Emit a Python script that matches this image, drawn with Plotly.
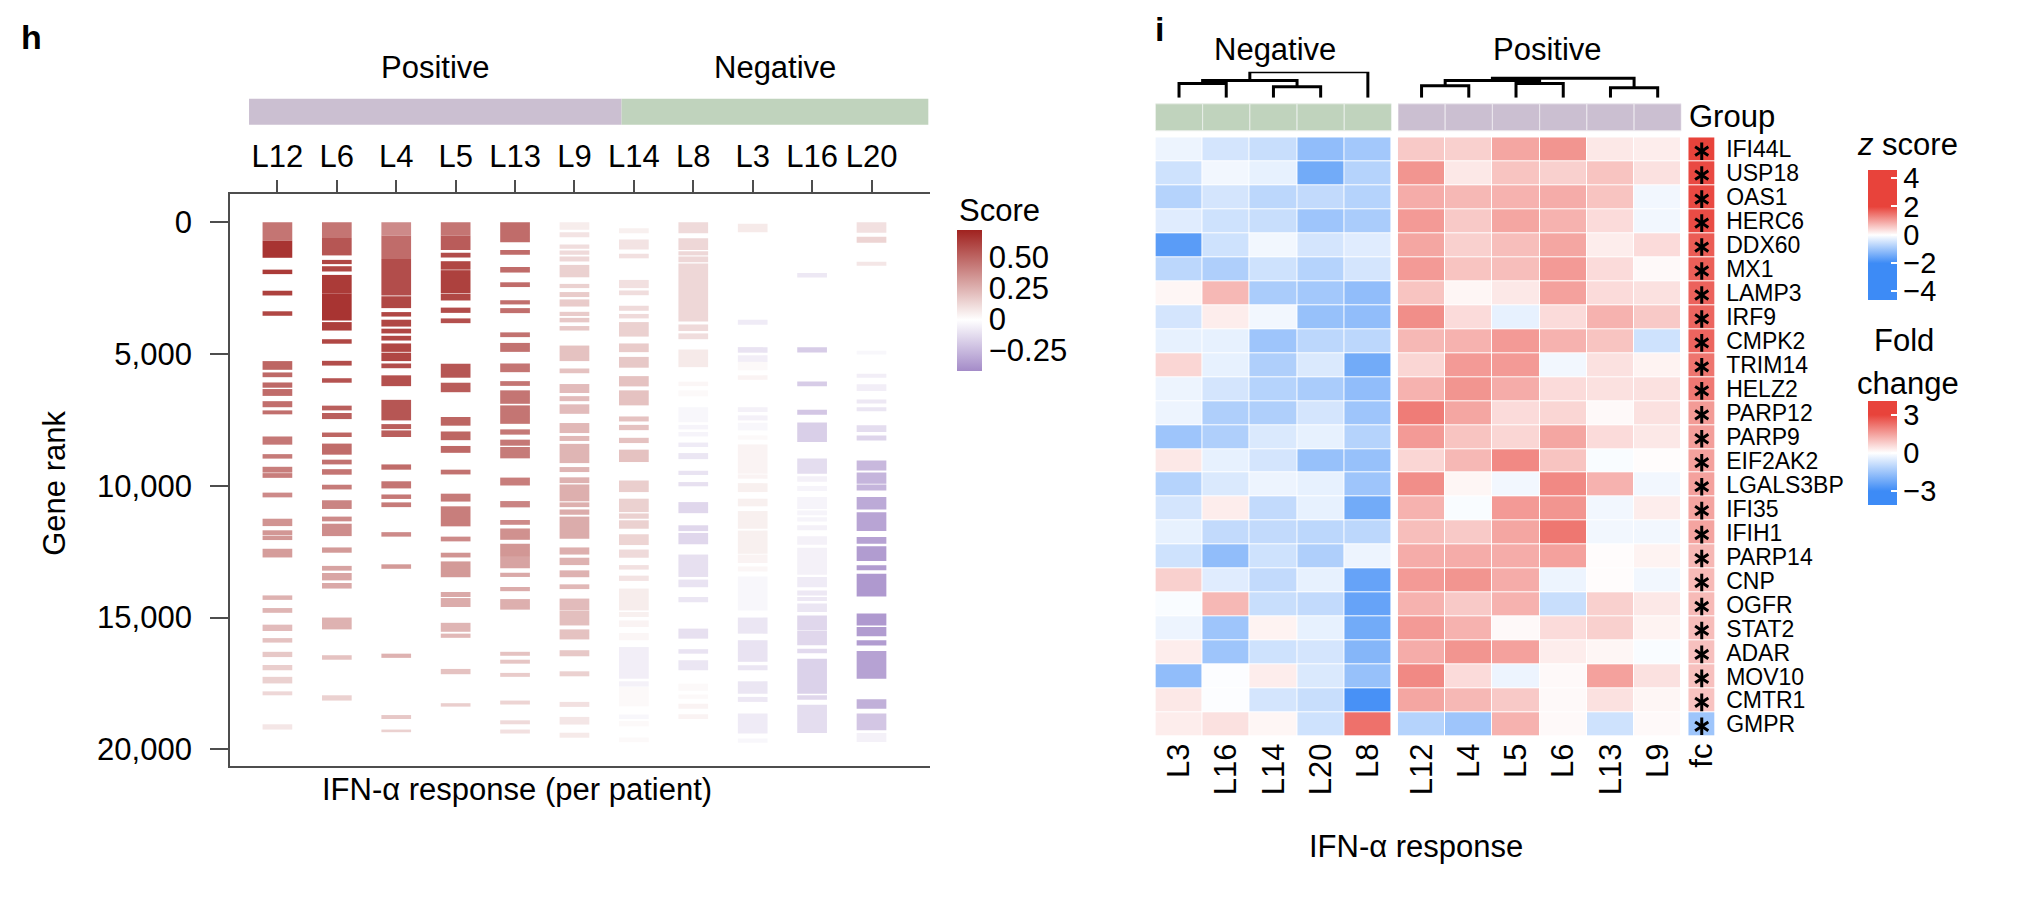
import plotly.graph_objects as go

# page body keeps an 8 px margin, so the figure is drawn 8 px in from the corner
OFF = 8
W, H = 2020 - 2 * OFF, 908 - 2 * OFF
FONT = "Liberation Sans"
AX = "#4d4d4d"
BIG = 31

# ---------------------------------------------------------------------------
# Panel h: barcode of gene ranks per patient (start rank, end rank, score)
# ---------------------------------------------------------------------------
PATIENTS = ["L12", "L6", "L4", "L5", "L13", "L9", "L14", "L8", "L3", "L16", "L20"]

BARS_L12 = [(0, 700, 0.45), (700, 1350, 0.66), (1800, 1970, 0.64), (2600, 2780, 0.62),
            (3380, 3550, 0.6), (5270, 5600, 0.5), (5700, 5880, 0.49), (6080, 6280, 0.49),
            (6330, 6590, 0.48), (6790, 7020, 0.47), (7140, 7290, 0.47), (8130, 8440, 0.44),
            (8800, 8970, 0.43), (9280, 9500, 0.42), (9520, 9700, 0.42), (10260, 10440, 0.38),
            (11250, 11530, 0.35), (11690, 11880, 0.34), (11900, 12060, 0.34), (12390, 12720, 0.32),
            (14160, 14330, 0.25), (14640, 14820, 0.24), (15270, 15510, 0.22), (15780, 15950, 0.2),
            (16300, 16500, 0.18), (16800, 17000, 0.16), (17250, 17500, 0.15), (17800, 17950, 0.13),
            (19050, 19250, 0.08)]
BARS_L6 = [(0, 600, 0.45), (600, 1260, 0.55), (1430, 1590, 0.6), (1670, 1870, 0.6),
           (2000, 2700, 0.64), (2700, 3730, 0.66), (3790, 4110, 0.63), (4440, 4610, 0.6),
           (5260, 5440, 0.58), (5920, 6090, 0.56), (6960, 7140, 0.52), (7240, 7470, 0.52),
           (7980, 8150, 0.5), (8400, 8820, 0.48), (9010, 9190, 0.46), (9370, 9580, 0.45),
           (9960, 10140, 0.43), (10550, 10880, 0.4), (11170, 11350, 0.38), (11440, 11910, 0.37),
           (12340, 12540, 0.33), (13040, 13220, 0.3), (13310, 13590, 0.29), (13690, 13900, 0.28),
           (15000, 15450, 0.25), (16430, 16600, 0.2), (17950, 18150, 0.15)]
BARS_L4 = [(0, 500, 0.38), (500, 1400, 0.48), (1400, 2780, 0.58), (2810, 3260, 0.6),
           (3410, 3580, 0.6), (3700, 3960, 0.6), (4040, 4220, 0.6), (4310, 4490, 0.6),
           (4600, 4920, 0.6), (4950, 5270, 0.6), (5360, 5540, 0.58), (5810, 6220, 0.57),
           (6740, 7520, 0.55), (7660, 7850, 0.52), (7900, 8150, 0.52), (9190, 9390, 0.48),
           (9830, 10100, 0.45), (10330, 10500, 0.44), (10630, 10810, 0.43), (11760, 11930, 0.38),
           (12980, 13150, 0.33), (16370, 16530, 0.25), (18700, 18850, 0.18), (19250, 19350, 0.15)]
BARS_L5 = [(0, 500, 0.45), (500, 1050, 0.53), (1160, 1340, 0.58), (1480, 1800, 0.6),
           (1820, 2700, 0.62), (2720, 2970, 0.6), (3240, 3440, 0.58), (3650, 3830, 0.57),
           (5370, 5900, 0.55), (6090, 6450, 0.53), (7390, 7720, 0.5), (7940, 8270, 0.5),
           (8490, 8750, 0.49), (9390, 9570, 0.46), (10300, 10600, 0.43), (10780, 11540, 0.42),
           (11930, 12110, 0.38), (12540, 12720, 0.35), (12870, 13470, 0.33), (14030, 14220, 0.28),
           (14260, 14600, 0.27), (15200, 15540, 0.24), (15610, 15770, 0.23), (16950, 17150, 0.2),
           (18250, 18380, 0.16)]
BARS_L13 = [(0, 760, 0.48), (1050, 1230, 0.48), (1700, 1910, 0.48), (2280, 2460, 0.48),
            (2960, 3120, 0.47), (3260, 3450, 0.47), (4180, 4360, 0.46), (4580, 4920, 0.46),
            (5360, 5690, 0.45), (6030, 6210, 0.45), (6380, 6890, 0.45), (6950, 7650, 0.45),
            (7860, 8060, 0.44), (8250, 8480, 0.44), (8530, 8960, 0.43), (9690, 9990, 0.42),
            (10580, 10820, 0.4), (11300, 11480, 0.38), (11620, 12050, 0.36), (12200, 12700, 0.34),
            (12700, 13130, 0.3), (13300, 13460, 0.28), (13840, 14000, 0.27), (14300, 14700, 0.26),
            (16300, 16450, 0.2), (16600, 16750, 0.19), (17100, 17250, 0.17), (18150, 18300, 0.14),
            (18900, 19050, 0.12), (19250, 19400, 0.1)]
BARS_L9 = [(0, 290, 0.06), (380, 570, 0.09), (850, 1010, 0.11), (1070, 1230, 0.12),
           (1300, 1490, 0.13), (1620, 2090, 0.15), (2340, 2500, 0.15), (2650, 2840, 0.17),
           (2930, 3200, 0.17), (3400, 3560, 0.17), (3630, 3800, 0.18), (3940, 4110, 0.18),
           (4680, 5270, 0.2), (5550, 5730, 0.2), (6140, 6480, 0.22), (6600, 6790, 0.22),
           (6910, 7270, 0.22), (7620, 8000, 0.23), (8110, 8300, 0.23), (8410, 9140, 0.24),
           (9290, 9480, 0.24), (9680, 9900, 0.25), (9950, 10590, 0.26), (10630, 10810, 0.26),
           (10900, 11100, 0.27), (11170, 12010, 0.27), (12340, 12610, 0.26), (12730, 13010, 0.25),
           (13210, 13470, 0.25), (13740, 13920, 0.23), (14280, 14730, 0.22), (14740, 15300, 0.21),
           (15450, 15830, 0.2), (16240, 16470, 0.18), (17040, 17230, 0.15), (18200, 18390, 0.1),
           (18770, 19060, 0.08), (19370, 19560, 0.07)]
BARS_L14 = [(230, 420, 0.05), (660, 1040, 0.09), (1200, 1370, 0.1), (2190, 2500, 0.1),
            (2590, 2770, 0.11), (3170, 3360, 0.12), (3480, 3650, 0.12), (3790, 4340, 0.15),
            (4600, 4930, 0.17), (5110, 5520, 0.18), (5840, 6230, 0.2), (6380, 6950, 0.2),
            (7370, 7560, 0.2), (7690, 7890, 0.2), (8180, 8380, 0.2), (8630, 9100, 0.2),
            (9800, 10240, 0.16), (10490, 11000, 0.15), (11050, 11250, 0.15), (11310, 11630, 0.15),
            (11840, 12250, 0.14), (12420, 12730, 0.12), (13010, 13180, 0.1), (13410, 13610, 0.09),
            (13900, 14730, 0.06), (14790, 14980, 0.05), (15110, 15360, 0.04), (15590, 15860, 0.03),
            (16120, 17320, -0.06), (17420, 17620, -0.05), (17640, 18370, 0.02), (18680, 18850, -0.03),
            (18930, 19130, 0.02), (19550, 19730, 0.02)]
BARS_L8 = [(0, 420, 0.12), (610, 1050, 0.13), (1100, 1260, 0.13), (1300, 1520, 0.13),
           (1570, 3770, 0.13), (3880, 4130, 0.12), (4220, 4440, 0.11), (4830, 5500, 0.07),
           (6050, 6220, 0.03), (6380, 6610, 0.02), (7020, 7590, -0.03), (7690, 7860, -0.04),
           (7960, 8130, -0.04), (8360, 8530, -0.07), (8760, 8990, -0.09), (9430, 9590, -0.1),
           (9860, 10020, -0.11), (10620, 11040, -0.14), (11500, 11720, -0.14), (11790, 12220, -0.14),
           (12610, 13460, -0.11), (13560, 13850, -0.1), (14220, 14420, -0.09), (15420, 15800, -0.11),
           (16200, 16370, -0.1), (16620, 17000, -0.09), (17510, 17780, 0.02), (17920, 18080, 0.02),
           (18270, 18460, 0.04), (18670, 18850, 0.04)]
BARS_L3 = [(60, 380, 0.07), (3700, 3890, -0.07), (4740, 4950, -0.1), (5050, 5300, -0.06),
           (5300, 5620, 0.02), (5810, 5980, 0.04), (7020, 7200, -0.05), (7330, 7520, -0.05),
           (7610, 7900, -0.03), (8090, 8250, 0.02), (8430, 9540, 0.04), (9570, 9730, 0.04),
           (9900, 10240, 0.05), (10490, 10780, 0.05), (10960, 11630, 0.05), (11700, 12580, 0.05),
           (12610, 12930, 0.04), (13060, 13250, 0.03), (13440, 14730, -0.03), (15000, 15610, -0.09),
           (15860, 16680, -0.1), (16810, 17000, -0.09), (17420, 17890, -0.09), (18010, 18200, -0.08),
           (18640, 19400, -0.07), (19590, 19750, -0.03)]
BARS_L16 = [(1930, 2100, -0.08), (4740, 4940, -0.18), (6040, 6220, -0.18), (7120, 7310, -0.2),
            (7600, 8340, -0.17), (8970, 9540, -0.12), (9640, 9850, -0.05), (10010, 10200, -0.04),
            (10430, 10880, -0.04), (10940, 11120, -0.04), (11190, 11360, -0.04), (11500, 11690, -0.05),
            (11920, 12240, -0.05), (12350, 13380, -0.05), (13460, 13850, -0.07), (13970, 14160, -0.08),
            (14220, 14370, -0.08), (14470, 14790, -0.09), (14920, 15490, -0.14), (15510, 16050, -0.14),
            (16180, 16350, -0.13), (16560, 17890, -0.16), (17950, 18120, -0.14), (18310, 19380, -0.12)]
BARS_L20 = [(0, 400, 0.1), (550, 780, 0.14), (1500, 1650, 0.08), (4880, 5020, -0.03),
            (5750, 5900, -0.06), (6150, 6400, -0.06), (6730, 6880, -0.08), (7020, 7170, -0.09),
            (7700, 7960, -0.12), (8090, 8280, -0.15), (9040, 9420, -0.25), (9500, 9920, -0.26),
            (9950, 10180, -0.26), (10430, 10900, -0.3), (11000, 11720, -0.32), (11940, 12200, -0.33),
            (12290, 12850, -0.35), (13020, 13210, -0.35), (13340, 14200, -0.36), (14850, 15300, -0.36),
            (15360, 15710, -0.35), (15860, 16060, -0.35), (16270, 17320, -0.33), (18100, 18460, -0.28),
            (18640, 19280, -0.2), (19380, 19720, -0.05)]

BARS = [BARS_L12, BARS_L6, BARS_L4, BARS_L5, BARS_L13, BARS_L9,
        BARS_L14, BARS_L8, BARS_L3, BARS_L16, BARS_L20]

RANK_TICKS = [0, 5000, 10000, 15000, 20000]
RANK_LABELS = ["0", "5,000", "10,000", "15,000", "20,000"]
SCORE_TICKS = [-0.25, 0, 0.25, 0.5]
SCORE_LABELS = ["\u22120.25", "0", "0.25", "0.50"]

# ---------------------------------------------------------------------------
# Panel i: z-score heatmap of IFN-alpha genes
# ---------------------------------------------------------------------------
HM_NEG = ["L3", "L16", "L14", "L20", "L8"]
HM_POS = ["L12", "L4", "L5", "L6", "L13", "L9"]
GENES = ["IFI44L", "USP18", "OAS1", "HERC6", "DDX60", "MX1", "LAMP3", "IRF9", "CMPK2",
         "TRIM14", "HELZ2", "PARP12", "PARP9", "EIF2AK2", "LGALS3BP", "IFI35", "IFIH1",
         "PARP14", "CNP", "OGFR", "STAT2", "ADAR", "MOV10", "CMTR1", "GMPR"]

Z_NEG = [
    [-0.19, -0.44, -0.57, -1.13, -0.95],
    [-0.50, -0.13, -0.25, -1.45, -0.76],
    [-0.76, -0.44, -0.69, -0.63, -0.76],
    [-0.32, -0.50, -0.57, -1.00, -0.88],
    [-1.70, -0.50, -0.13, -0.44, -0.32],
    [-0.69, -0.82, -0.50, -0.76, -0.44],
    [0.10, 0.76, -0.88, -0.95, -1.13],
    [-0.44, 0.19, -0.13, -1.07, -1.13],
    [-0.25, -0.25, -1.00, -0.69, -0.69],
    [0.44, -0.25, -0.82, -0.38, -1.45],
    [-0.19, -0.44, -0.76, -0.88, -1.13],
    [-0.19, -0.82, -0.82, -0.44, -1.00],
    [-1.00, -0.82, -0.38, -0.25, -0.76],
    [0.25, -0.25, -0.44, -1.07, -1.07],
    [-0.76, -0.38, -0.19, -0.25, -1.00],
    [-0.44, 0.19, -0.63, -0.25, -1.45],
    [-0.25, -0.63, -0.63, -0.69, -0.69],
    [-0.50, -1.13, -0.50, -0.82, -0.19],
    [0.50, -0.32, -0.63, -0.25, -1.58],
    [-0.06, 0.76, -0.57, -0.63, -1.58],
    [-0.19, -1.00, 0.13, -0.25, -1.45],
    [0.19, -1.00, -0.50, -0.44, -1.26],
    [-1.13, -0.03, 0.19, -0.38, -1.07],
    [0.25, -0.03, -0.44, -0.57, -1.89],
    [0.19, 0.32, 0.10, -0.50, 1.51],
]
Z_POS = [
    [0.57, 0.50, 0.95, 1.13, 0.25, 0.19],
    [1.13, 0.25, 0.63, 0.50, 0.63, 0.32],
    [0.88, 0.76, 0.82, 0.88, 0.63, -0.13],
    [1.07, 0.57, 0.95, 0.82, 0.38, -0.13],
    [0.95, 0.50, 0.69, 0.95, 0.19, 0.38],
    [1.07, 0.63, 0.69, 1.07, 0.38, 0.06],
    [0.63, 0.10, 0.25, 1.00, 0.38, 0.32],
    [1.20, 0.38, -0.25, 0.38, 0.82, 0.57],
    [0.76, 0.82, 1.07, 0.82, 0.63, -0.50],
    [0.44, 1.07, 1.07, -0.13, 0.32, 0.13],
    [0.82, 1.13, 0.88, 0.38, 0.32, 0.32],
    [1.39, 0.95, 0.38, 0.44, 0.06, 0.32],
    [1.07, 0.63, 0.44, 0.95, 0.38, 0.25],
    [0.44, 0.76, 1.26, 0.63, -0.06, 0.03],
    [1.20, 0.10, -0.13, 1.26, 0.82, -0.13],
    [0.82, -0.06, 1.07, 1.13, -0.13, 0.19],
    [0.69, 0.57, 0.95, 1.45, -0.13, -0.13],
    [0.88, 0.88, 0.88, 1.00, 0.03, 0.13],
    [1.07, 1.13, 0.88, -0.19, 0.03, -0.13],
    [0.82, 0.57, 0.82, -0.57, 0.50, 0.25],
    [1.07, 0.82, 0.06, 0.38, 0.50, 0.13],
    [0.88, 1.13, 1.00, 0.19, 0.10, -0.06],
    [1.26, 0.38, -0.19, 0.06, 1.00, 0.32],
    [0.95, 0.76, 0.57, 0.06, 0.32, 0.10],
    [-0.76, -1.00, 0.82, 0.06, -0.50, 0.06],
]
FOLD_CHANGE = [3.0, 2.9, 2.9, 2.85, 2.6, 2.55, 2.5, 2.45, 2.45, 2.2, 2.15, 1.6, 1.55,
               1.5, 1.5, 1.45, 1.45, 1.15, 1.1, 1.1, 1.05, 1.0, 1.0, 0.95, -1.5]
SIGNIFICANT = [True] * len(GENES)

# dendrogram merges: (node a, node b, height); new nodes numbered after the leaves
NEG_LINKAGE = [(0, 1, 15.0), (2, 3, 11.7), (5, 6, 18.3), (7, 4, 27.3)]
POS_LINKAGE = [(0, 1, 12.7), (2, 3, 15.0), (4, 5, 10.7), (6, 7, 18.3), (9, 8, 20.7)]

Z_TICKS = [-4, -2, 0, 2, 4]
Z_LABELS = ["\u22124", "\u22122", "0", "2", "4"]
FC_TICKS = [-3, 0, 3]
FC_LABELS = ["\u22123", "0", "3"]

PURPLE_GRP = "#cbbfd1"
GREEN_GRP = "#c0d3bd"
BLUE = "#3d8bf6"
RED = "#e8433b"


def px(x):
    return (x - OFF) / W


def py(y):
    return 1 - (y - OFF) / H


def dendro_xy(n_leaves, linkage):
    pos = {i: (float(i), 0.0) for i in range(n_leaves)}
    xs, ys = [], []
    for k, (a, b, h) in enumerate(linkage):
        xa, ha = pos[a]
        xb, hb = pos[b]
        xs += [xa, xa, xb, xb, None]
        ys += [ha, h, h, hb, None]
        pos[n_leaves + k] = ((xa + xb) / 2, h)
    return xs, ys


fig = go.Figure()

# barcode bars
bx, bbase, blen, bcol = [], [], [], []
for i, segs in enumerate(BARS):
    for s, e, sc in segs:
        bx.append(i)
        bbase.append(s)
        blen.append(e - s)
        bcol.append(sc)

fig.add_trace(go.Bar(
    x=bx, y=blen, base=bbase, width=0.5,
    marker=dict(color=bcol, coloraxis="coloraxis", line=dict(width=0)),
    hoverinfo="skip", showlegend=False, xaxis="x", yaxis="y",
))

# heatmaps
fig.add_trace(go.Heatmap(
    z=Z_NEG, x=list(range(len(HM_NEG))), y=list(range(len(GENES))),
    coloraxis="coloraxis2", xgap=1, ygap=1, hoverinfo="skip",
    xaxis="x2", yaxis="y2",
))
fig.add_trace(go.Heatmap(
    z=Z_POS, x=list(range(len(HM_POS))), y=list(range(len(GENES))),
    coloraxis="coloraxis2", xgap=1, ygap=1, hoverinfo="skip",
    xaxis="x3", yaxis="y3",
))
fig.add_trace(go.Heatmap(
    z=[[v] for v in FOLD_CHANGE], x=[0], y=list(range(len(GENES))),
    coloraxis="coloraxis3", xgap=1, ygap=1, hoverinfo="skip",
    xaxis="x4", yaxis="y4",
))

# significance asterisks: two three-armed marks overlaid give a six-armed star
sig_rows = [i + 0.08 for i, s in enumerate(SIGNIFICANT) if s]
for sym in ["y-up-open", "y-down-open"]:
    fig.add_trace(go.Scatter(
        x=[0] * len(sig_rows), y=sig_rows, mode="markers",
        marker=dict(symbol=sym, size=11, color="black", line=dict(color="black", width=3)),
        hoverinfo="skip", showlegend=False, xaxis="x4", yaxis="y4",
    ))

# dendrograms
for n, link, xa in [(len(HM_NEG), NEG_LINKAGE, "x2"), (len(HM_POS), POS_LINKAGE, "x3")]:
    dx, dy = dendro_xy(n, link)
    fig.add_trace(go.Scatter(
        x=dx, y=dy, mode="lines", line=dict(color="black", width=3),
        hoverinfo="skip", showlegend=False, cliponaxis=False, xaxis=xa, yaxis="y5",
    ))

hm_top, hm_bot = 136.6, 737
hidden = dict(showgrid=False, zeroline=False, showline=False, fixedrange=True)

fig.update_layout(
    width=W, height=H, margin=dict(l=0, r=0, t=0, b=0),
    paper_bgcolor="white", plot_bgcolor="white",
    font=dict(family=FONT, size=BIG, color="black"),
    barmode="overlay", showlegend=False,
    xaxis=dict(
        domain=[px(227), px(930)], range=[-0.796, 10.99], side="top", anchor="y",
        tickmode="array", tickvals=list(range(len(PATIENTS))), ticktext=PATIENTS,
        ticks="outside", ticklen=12, tickwidth=2, tickcolor=AX,
        showline=True, linecolor=AX, linewidth=2, mirror=True,
        showgrid=False, zeroline=False, tickfont=dict(size=BIG), fixedrange=True,
    ),
    yaxis=dict(
        domain=[py(767), py(193)], range=[20644, -1086], anchor="x",
        tickmode="array", tickvals=RANK_TICKS, ticktext=RANK_LABELS,
        ticks="outside", ticklen=18, tickwidth=2, tickcolor=AX,
        showline=True, linecolor=AX, linewidth=2,
        showgrid=False, zeroline=False, tickfont=dict(size=BIG),
        ticklabelstandoff=12, fixedrange=True,
    ),
    xaxis2=dict(
        domain=[px(1156), px(1393)], range=[-0.5, len(HM_NEG) - 0.5], anchor="y2",
        tickmode="array", tickvals=list(range(len(HM_NEG))), ticktext=HM_NEG,
        tickangle=-90, ticks="", tickfont=dict(size=BIG), **hidden,
    ),
    xaxis3=dict(
        domain=[px(1399.5), px(1684)], range=[-0.5, len(HM_POS) - 0.5], anchor="y3",
        tickmode="array", tickvals=list(range(len(HM_POS))), ticktext=HM_POS,
        tickangle=-90, ticks="", tickfont=dict(size=BIG), **hidden,
    ),
    xaxis4=dict(
        domain=[px(1691), px(1718)], range=[-0.5, 0.5], anchor="y4",
        tickmode="array", tickvals=[0], ticktext=["fc"],
        tickangle=-90, ticks="", tickfont=dict(size=BIG), **hidden,
    ),
    yaxis2=dict(domain=[py(hm_bot), py(hm_top)], range=[len(GENES) - 0.5, -0.5],
                anchor="x2", showticklabels=False, **hidden),
    yaxis3=dict(domain=[py(hm_bot), py(hm_top)], range=[len(GENES) - 0.5, -0.5],
                anchor="x3", showticklabels=False, **hidden),
    yaxis4=dict(domain=[py(hm_bot), py(hm_top)], range=[len(GENES) - 0.5, -0.5],
                anchor="x4", side="right", tickmode="array",
                tickvals=list(range(len(GENES))), ticktext=GENES, ticks="",
                tickfont=dict(size=23), ticklabelstandoff=10, **hidden),
    yaxis5=dict(domain=[py(97), py(71)], range=[0, 27.3], anchor="x2",
                visible=False, fixedrange=True),
    coloraxis=dict(
        cmin=-0.41, cmax=0.72,
        colorscale=[[0, "#a48bc8"], [0.41 / 1.13, "#ffffff"], [1, "#a0221f"]],
        colorbar=dict(
            x=px(957), xanchor="left", y=py(229), yanchor="top", xpad=0, ypad=0,
            len=141, lenmode="pixels", thickness=25, thicknessmode="pixels",
            outlinewidth=0, ticks="", tickvals=SCORE_TICKS, ticktext=SCORE_LABELS,
            tickfont=dict(size=BIG),
        ),
    ),
    coloraxis2=dict(
        cmin=-4.6, cmax=4.6,
        colorscale=[[0, BLUE], [2.6 / 9.2, BLUE], [0.5, "#ffffff"],
                    [6.6 / 9.2, RED], [1, RED]],
        colorbar=dict(
            x=px(1871), xanchor="left", y=py(169), yanchor="top", xpad=0, ypad=0,
            len=130, lenmode="pixels", thickness=29, thicknessmode="pixels",
            outlinewidth=0, ticks="inside", ticklen=6, tickcolor="white", tickwidth=1.5,
            tickvals=Z_TICKS, ticktext=Z_LABELS, tickfont=dict(size=29),
        ),
    ),
    coloraxis3=dict(
        cmin=-4.1, cmax=4.1,
        colorscale=[[0, BLUE], [1.1 / 8.2, BLUE], [0.5, "#ffffff"],
                    [7.1 / 8.2, RED], [1, RED]],
        colorbar=dict(
            x=px(1871), xanchor="left", y=py(401), yanchor="top", xpad=0, ypad=0,
            len=104, lenmode="pixels", thickness=29, thicknessmode="pixels",
            outlinewidth=0, ticks="inside", ticklen=6, tickcolor="white", tickwidth=1.5,
            tickvals=FC_TICKS, ticktext=FC_LABELS, tickfont=dict(size=29),
        ),
    ),
)

# group annotation bars
shapes = [
    dict(type="rect", xref="paper", yref="paper", x0=px(246), x1=px(620),
         y0=py(124), y1=py(98), fillcolor=PURPLE_GRP, line=dict(width=0)),
    dict(type="rect", xref="paper", yref="paper", x0=px(620), x1=px(928),
         y0=py(124), y1=py(98), fillcolor=GREEN_GRP, line=dict(width=0)),
]
for i in range(len(HM_NEG)):
    shapes.append(dict(type="rect", xref="x2", yref="paper", x0=i - 0.5, x1=i + 0.5,
                       y0=py(130), y1=py(103), fillcolor=GREEN_GRP,
                       line=dict(color="#e8eee8", width=1)))
for i in range(len(HM_POS)):
    shapes.append(dict(type="rect", xref="x3", yref="paper", x0=i - 0.5, x1=i + 0.5,
                       y0=py(130), y1=py(103), fillcolor=PURPLE_GRP,
                       line=dict(color="#ece8ee", width=1)))
fig.update_layout(shapes=shapes)


def note(text, x, y, size=BIG, xanchor="center", yanchor="middle", angle=0):
    return dict(text=text, x=px(x), y=py(y), xref="paper", yref="paper",
                xanchor=xanchor, yanchor=yanchor, showarrow=False, textangle=angle,
                font=dict(size=size, family=FONT, color="black"))


fig.update_layout(annotations=[
    note("<b>h</b>", 15, 36, size=34, xanchor="left"),
    note("<b>i</b>", 1154, 28, size=34, xanchor="left"),
    note("Positive", 433, 67),
    note("Negative", 774, 67),
    note("Gene rank", 51, 483, angle=-90),
    note("IFN-\u03b1 response (per patient)", 515, 790),
    note("Score", 957, 210, xanchor="left"),
    note("Negative", 1276, 49),
    note("Positive", 1550, 49),
    note("Group", 1690, 116, xanchor="left"),
    note("IFN-\u03b1 response", 1418, 847),
    note("<i>z</i> score", 1911, 144),
    note("Fold", 1908, 340),
    note("change", 1912, 383),
])

fig.write_html("out.html")
